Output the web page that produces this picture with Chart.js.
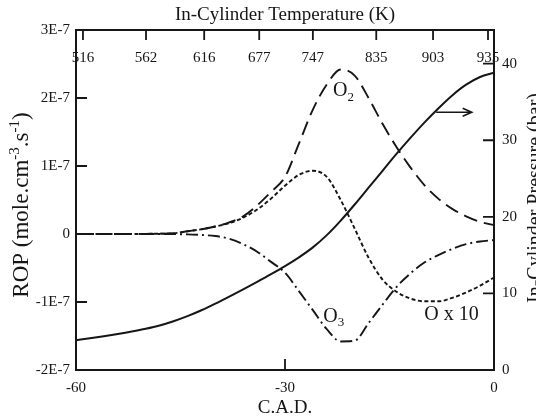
<!DOCTYPE html>
<html><head><meta charset="utf-8">
<script src="https://cdn.jsdelivr.net/npm/chart.js@4/dist/chart.umd.min.js"></script>
<style>html,body{margin:0;padding:0;background:#fff;}#wrap{width:536px;height:420px;}</style>
</head><body><div id="wrap"><canvas id="c" width="536" height="420"></canvas></div>
<script>
// Crank angle (C.A.D.)
const cad = [-60,-58,-56,-54,-52,-50,-48,-46,-44,-42,-40,-38,-36,-34,-32,-30,-28,-26,-24,-22,-20,-18,-16,-14,-12,-10,-8,-6,-4,-2,0];
// In-cylinder pressure (bar), right axis
const pressure = [3.9,4.15,4.42,4.71,5.03,5.39,5.82,6.37,7.03,7.8,8.67,9.59,10.54,11.51,12.51,13.56,14.71,16.01,17.61,19.51,21.61,23.81,26.01,28.21,30.31,32.31,34.16,35.86,37.26,38.26,38.81];
// ROP values in units of 1E-7 mole.cm-3.s-1
const ropO2 = [0,0,0,0,0,0.002,0.005,0.01,0.04,0.07,0.11,0.17,0.26,0.42,0.62,0.84,1.33,1.83,2.2,2.42,2.33,2.0,1.62,1.28,0.98,0.72,0.52,0.37,0.26,0.18,0.13];
const ropOx10 = [0,0,0,0,0,0.002,0.005,0.01,0.04,0.07,0.11,0.16,0.24,0.36,0.52,0.71,0.87,0.93,0.84,0.5,0.08,-0.35,-0.67,-0.85,-0.95,-0.99,-0.99,-0.94,-0.86,-0.76,-0.64];
const ropO3 = [0,0,0,0,0,0,0,-0.002,-0.005,-0.015,-0.03,-0.07,-0.15,-0.26,-0.41,-0.57,-0.84,-1.12,-1.4,-1.58,-1.57,-1.31,-1.04,-0.78,-0.58,-0.42,-0.31,-0.22,-0.15,-0.11,-0.09];
// Tick labels
const leftTicks = [-2,-1,0,1,2,3];
const rightTicks = [0,10,20,30,40];
const bottomTicks = [-60,-30,0];
const tempLabels = ['516','562','616','677','747','835','903','935'];
const tempTickCad = [-59.0,-49.95,-41.6,-33.7,-26.0,-16.9,-8.75,-0.86];
// Annotations (anchor in data units)
const annotations = [
  {text:'O', sub:'2', x:-21.6, y:2.1},
  {text:'O', sub:'3', x:-23.0, y:-1.21},
  {text:'O x 10', sub:'', x:-6.1, y:-1.19}
];
const arrowFrom = {x:-8.3, y:1.79}, arrowTo = {x:-3.2, y:1.79};

const FONT = "'Liberation Serif','Times New Roman',serif";
const INK = '#161616';
Chart.defaults.font.family = FONT;
Chart.defaults.color = INK;

const pts = arr => cad.map((c,i)=>({x:c,y:arr[i]}));
const fixTicks = list => (s => { s.ticks = list.map(v=>({value:v})); });

const deco = {
  id:'deco',
  afterDraw(chart){
    const ctx = chart.ctx, a = chart.chartArea;
    const sx = chart.scales.x, sy = chart.scales.y, sy2 = chart.scales.y2, st = chart.scales.xTop;
    ctx.save();
    ctx.strokeStyle = INK; ctx.fillStyle = INK;
    ctx.lineWidth = 2;
    ctx.strokeRect(a.left, a.top, a.right-a.left, a.bottom-a.top);
    ctx.lineWidth = 1.8;
    ctx.beginPath();
    [-1,0,1,2].forEach(v=>{const y=sy.getPixelForValue(v); ctx.moveTo(a.left,y); ctx.lineTo(a.left+11,y);});
    [10,20,30,40].forEach(v=>{const y=sy2.getPixelForValue(v); ctx.moveTo(a.right,y); ctx.lineTo(a.right-11,y);});
    [-30].forEach(v=>{const x=sx.getPixelForValue(v); ctx.moveTo(x,a.bottom); ctx.lineTo(x,a.bottom-11);});
    tempTickCad.forEach(v=>{const x=st.getPixelForValue(v); ctx.moveTo(x,a.top); ctx.lineTo(x,a.top+10);});
    ctx.stroke();
    // top temperature labels
    ctx.font = '15px '+FONT; ctx.textAlign='center'; ctx.textBaseline='middle';
    tempLabels.forEach((t,i)=>{ctx.fillText(t, st.getPixelForValue(tempTickCad[i]), a.top+28);});
    // titles
    ctx.font = '19px '+FONT;
    ctx.fillText('In-Cylinder Temperature (K)', (a.left+a.right)/2, 15);
    ctx.fillText('C.A.D.', (a.left+a.right)/2, 408);
    // right title
    ctx.save();
    ctx.translate(541, 198); ctx.rotate(-Math.PI/2);
    ctx.font = '20px '+FONT; ctx.textBaseline='alphabetic'; ctx.textAlign='center';
    ctx.fillText('In-Cylinder Pressure (bar)', 0, 0);
    ctx.restore();
    // left title with superscripts
    ctx.save();
    ctx.translate(28, 205); ctx.rotate(-Math.PI/2);
    ctx.textBaseline='alphabetic'; ctx.textAlign='left';
    const parts = [['ROP (mole.cm',0],['-3',1],['.s',0],['-1',1],[')',0]];
    const fN = '23px '+FONT, fS = '15px '+FONT;
    let total = 0;
    parts.forEach(p=>{ctx.font = p[1]?fS:fN; total += ctx.measureText(p[0]).width;});
    let cx = -total/2;
    parts.forEach(p=>{ctx.font = p[1]?fS:fN; ctx.fillText(p[0], cx, p[1]?-9:0); cx += ctx.measureText(p[0]).width;});
    ctx.restore();
    // annotations
    annotations.forEach(an=>{
      const px = sx.getPixelForValue(an.x), py = sy.getPixelForValue(an.y);
      ctx.font = '20px '+FONT; ctx.textAlign='left'; ctx.textBaseline='middle';
      const w1 = ctx.measureText(an.text).width;
      ctx.font = '13px '+FONT;
      const w2 = an.sub ? ctx.measureText(an.sub).width : 0;
      let x0 = px - (w1+w2)/2;
      ctx.font = '20px '+FONT; ctx.fillText(an.text, x0, py);
      if (an.sub){ ctx.font='13px '+FONT; ctx.fillText(an.sub, x0+w1, py+6); }
    });
    // arrow
    const ax0 = sx.getPixelForValue(arrowFrom.x), ay = sy.getPixelForValue(arrowFrom.y);
    const ax1 = sx.getPixelForValue(arrowTo.x);
    ctx.lineWidth = 1.6;
    ctx.beginPath(); ctx.moveTo(ax0, ay); ctx.lineTo(ax1, ay);
    ctx.moveTo(ax1-9, ay-4); ctx.lineTo(ax1, ay); ctx.lineTo(ax1-9, ay+4);
    ctx.stroke();
    ctx.restore();
  }
};

const tickFont = {size:15, family:FONT};
const common = {pointRadius:0, cubicInterpolationMode:'monotone', fill:false, borderColor:INK, xAxisID:'x'};
new Chart(document.getElementById('c'), {
  type:'line',
  data:{datasets:[
    Object.assign({label:'Pressure', data:pts(pressure), yAxisID:'y2', borderWidth:2}, common),
    Object.assign({label:'O2', data:pts(ropO2), yAxisID:'y', borderWidth:1.9, borderDash:[14,7]}, common),
    Object.assign({label:'O x 10', data:pts(ropOx10), yAxisID:'y', borderWidth:1.9, borderDash:[4,2.5]}, common),
    Object.assign({label:'O3', data:pts(ropO3), yAxisID:'y', borderWidth:1.9, borderDash:[12,4,2,4]}, common)
  ]},
  options:{
    responsive:false, animation:false, devicePixelRatio:1,
    layout:{padding:0},
    plugins:{legend:{display:false}, tooltip:{enabled:false}},
    scales:{
      x:{type:'linear', position:'bottom', min:-60, max:0,
         afterBuildTicks:fixTicks(bottomTicks),
         ticks:{font:tickFont, color:INK, padding:9, maxRotation:0, autoSkip:false, callback:v=>String(v)},
         grid:{display:false, drawTicks:false}, border:{display:false},
         afterFit:s=>{s.height=50;}},
      xTop:{type:'linear', position:'top', min:-60, max:0,
         ticks:{display:false}, grid:{display:false, drawTicks:false}, border:{display:false},
         afterFit:s=>{s.height=30;}},
      y:{type:'linear', position:'left', min:-2, max:3,
         afterBuildTicks:fixTicks(leftTicks),
         ticks:{font:tickFont, color:INK, padding:6, callback:v=>(v===0?'0':v+'E-7')},
         grid:{display:false, drawTicks:false}, border:{display:false},
         afterFit:s=>{s.width=76;}},
      y2:{type:'linear', position:'right', min:0, max:44.4,
         afterBuildTicks:fixTicks(rightTicks),
         ticks:{font:tickFont, color:INK, padding:8, callback:v=>String(v)},
         grid:{display:false, drawTicks:false}, border:{display:false},
         afterFit:s=>{s.width=42;}}
    }
  },
  plugins:[deco]
});
</script></body></html>
